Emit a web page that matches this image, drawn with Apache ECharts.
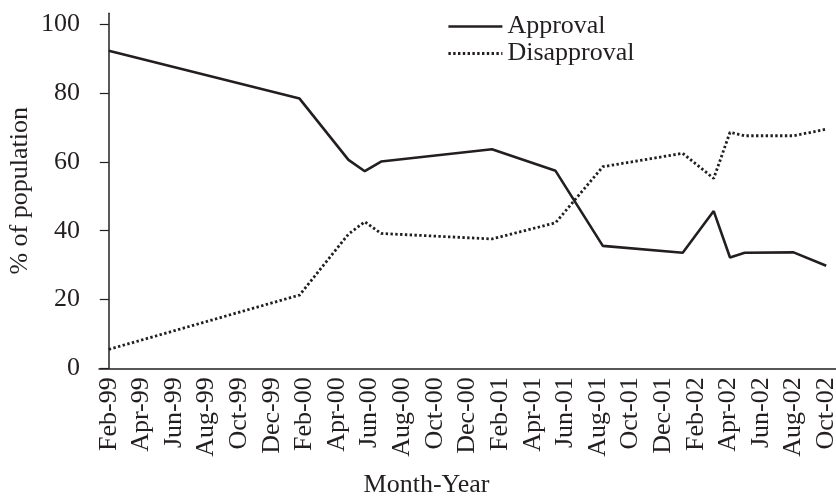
<!DOCTYPE html>
<html>
<head>
<meta charset="utf-8">
<script src="https://cdn.jsdelivr.net/npm/echarts@6/dist/echarts.min.js"></script>
<style>
  html, body { margin: 0; padding: 0; background: #fff; }
  #chart { width: 836px; height: 497px; }
</style>
</head>
<body>
<div id="chart"></div>
<script>
// Poll dates and results (% of population)
const pollDates = ['1999-02-01', '2000-01-22', '2000-04-22', '2000-05-22', '2000-06-22',
  '2001-01-16', '2001-05-13', '2001-08-10', '2002-01-07', '2002-03-04',
  '2002-04-04', '2002-05-01', '2002-08-01', '2002-10-01'];
const approval = [92.3, 78.4, 60.6, 57.3, 60.1, 63.7, 57.4, 35.6, 33.6, 45.7, 32.2, 33.6, 33.7, 29.8];
const disapproval = [5.5, 21.3, 39.0, 42.6, 39.2, 37.6, 42.3, 58.6, 62.5, 55.2, 68.6, 67.6, 67.6, 69.5];

// Axis tick labels, one every two months starting Feb-99
const monthLabels = ['Feb-99', 'Apr-99', 'Jun-99', 'Aug-99', 'Oct-99', 'Dec-99',
  'Feb-00', 'Apr-00', 'Jun-00', 'Aug-00', 'Oct-00', 'Dec-00',
  'Feb-01', 'Apr-01', 'Jun-01', 'Aug-01', 'Oct-01', 'Dec-01',
  'Feb-02', 'Apr-02', 'Jun-02', 'Aug-02', 'Oct-02'];
const yTicks = [0, 20, 40, 60, 80, 100];

// months elapsed since 1 Feb 1999
function monthIndex(s) {
  const [y, m, d] = s.split('-').map(Number);
  return (y - 1999) * 12 + (m - 2) + (d - 1) / 30;
}
const xs = pollDates.map(monthIndex);
const labelPos = monthLabels.map((_, i) => i * 2);

const ink = '#231f20';
const font = "'Liberation Serif', 'Times New Roman', serif";
const approvalLine = { color: ink, width: 2.6 };
const disapprovalLine = { color: ink, width: 2.8, type: [2.4, 2.4] };

const chart = echarts.init(document.getElementById('chart'), null, { renderer: 'canvas' });
chart.setOption({
  animation: false,
  backgroundColor: '#fff',
  textStyle: { fontFamily: font, color: ink },
  grid: { left: 99, right: 0, top: 13.3, bottom: 128.7, containLabel: false, outerBoundsMode: 'none' },
  legend: {
    orient: 'vertical',
    left: 447,
    top: 13,
    padding: 0,
    itemWidth: 54,
    itemHeight: 14,
    itemGap: 0,
    // line samples only, no point markers
    itemStyle: { opacity: 0, borderWidth: 0 },
    textStyle: { fontFamily: font, fontSize: 26, lineHeight: 27, color: ink },
    data: [
      { name: 'Approval', lineStyle: approvalLine },
      { name: 'Disapproval', lineStyle: disapprovalLine }
    ]
  },
  xAxis: {
    type: 'value',
    min: -0.6,
    max: 44.6,
    splitLine: { show: false },
    axisLine: { show: true, lineStyle: { color: ink, width: 1.5 } },
    axisTick: { show: false },
    axisLabel: {
      customValues: labelPos,
      rotate: 90,
      margin: 9,
      fontFamily: font,
      fontSize: 26,
      color: ink,
      formatter: v => monthLabels[Math.round(v / 2)]
    },
    name: 'Month-Year',
    nameLocation: 'middle',
    nameGap: 104,
    nameMoveOverlap: false,
    nameTextStyle: { fontFamily: font, fontSize: 26, color: ink, padding: [0, 82, 0, 0] }
  },
  yAxis: {
    type: 'value',
    min: 0,
    max: 103.2,
    splitLine: { show: false },
    axisLine: { show: true, lineStyle: { color: ink, width: 1.5 } },
    axisTick: { show: true, customValues: yTicks, length: 9, lineStyle: { color: ink, width: 1.2 } },
    axisLabel: { customValues: yTicks, margin: 19, fontFamily: font, fontSize: 26, color: ink },
    name: '% of population',
    nameLocation: 'middle',
    nameGap: 66,
    nameMoveOverlap: false,
    nameRotate: 90,
    nameTextStyle: { fontFamily: font, fontSize: 26, color: ink }
  },
  series: [
    {
      name: 'Approval',
      type: 'line',
      data: xs.map((x, i) => [x, approval[i]]),
      symbol: 'none',
      lineStyle: approvalLine,
      itemStyle: { color: ink }
    },
    {
      name: 'Disapproval',
      type: 'line',
      data: xs.map((x, i) => [x, disapproval[i]]),
      symbol: 'none',
      lineStyle: disapprovalLine,
      itemStyle: { color: ink }
    }
  ]
});
</script>
</body>
</html>
